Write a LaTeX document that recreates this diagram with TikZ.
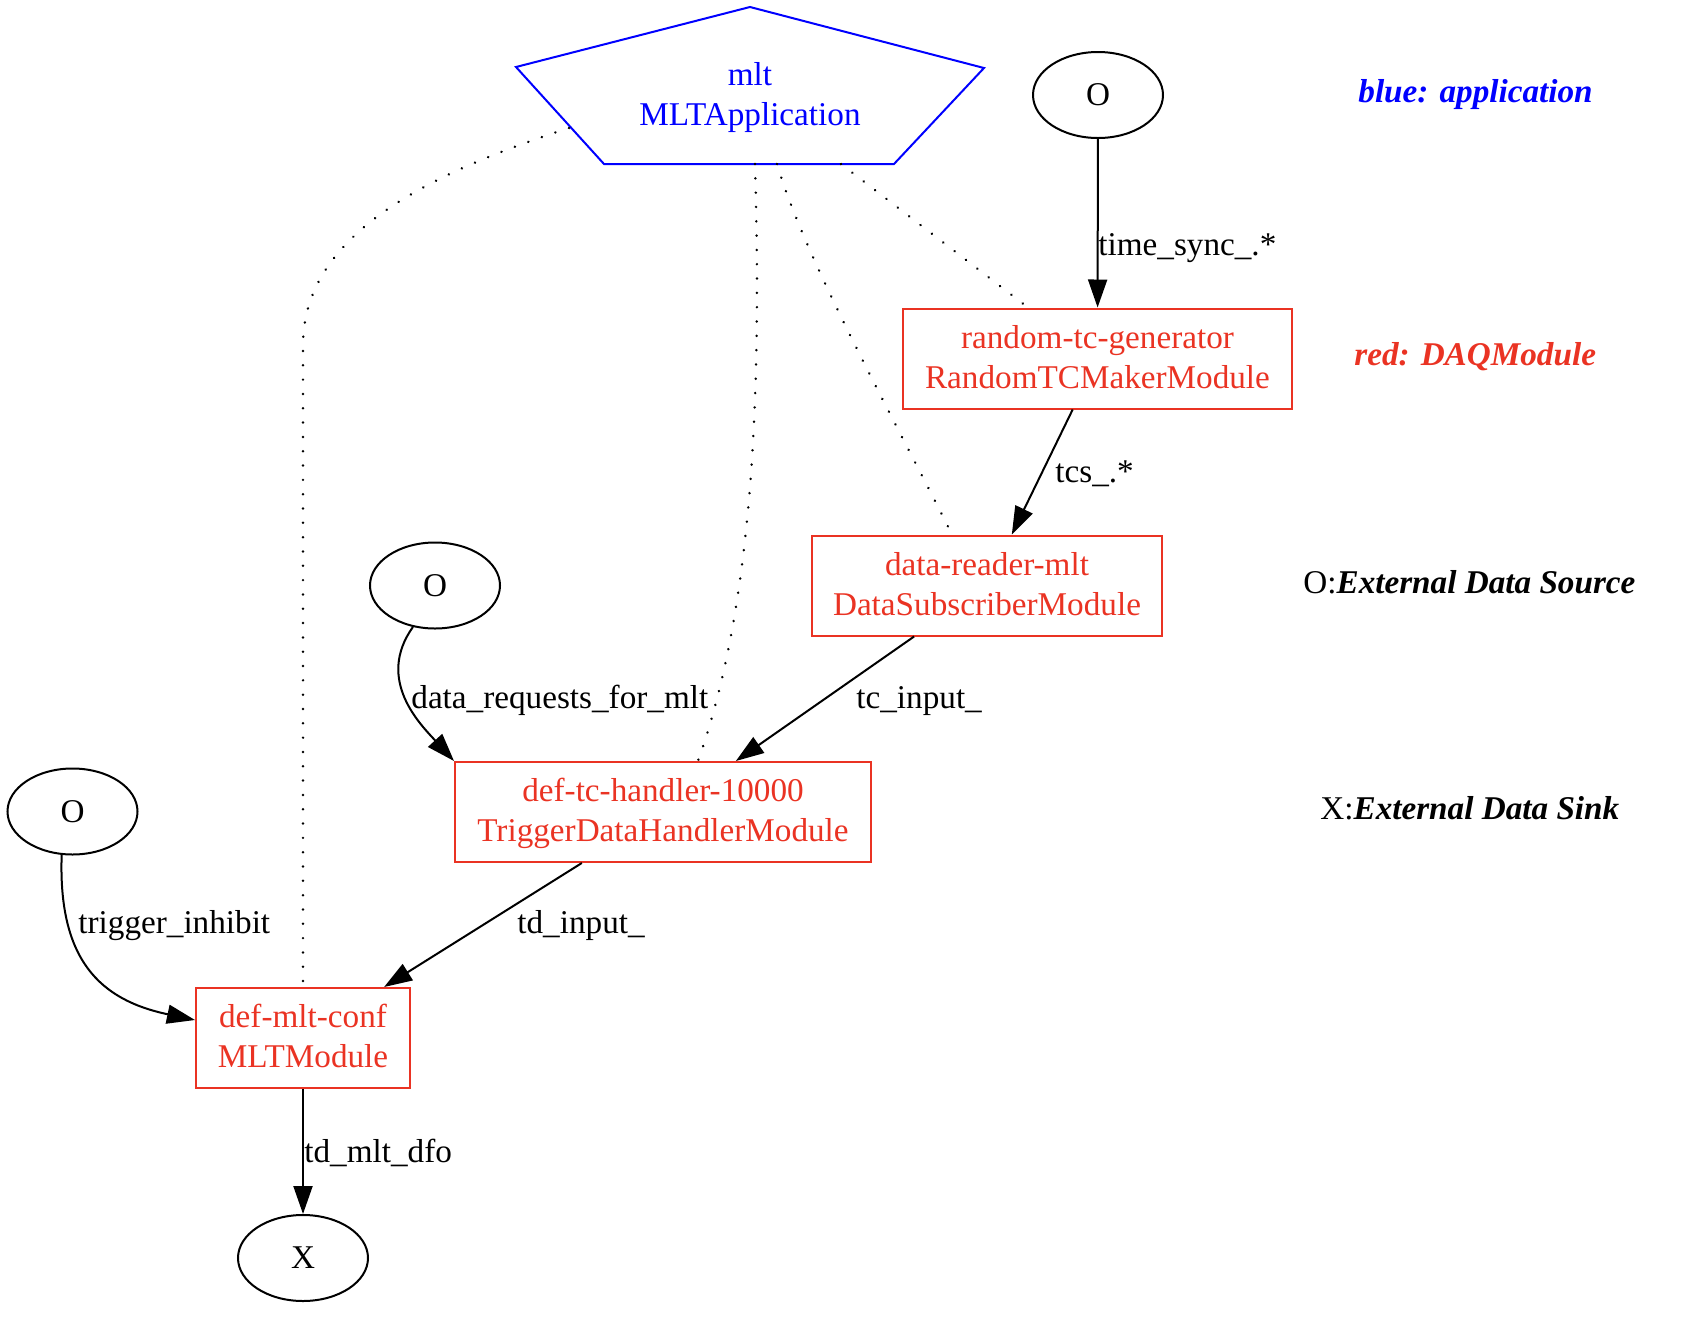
\documentclass[tikz,border=0pt]{standalone}
\usepackage{fontspec}
\setmainfont{Liberation Serif}
\usetikzlibrary{arrows.meta,shapes.geometric,calc}
\definecolor{dred}{RGB}{234,51,35}
\definecolor{dblue}{RGB}{0,0,255}
\newcommand\hstr{\rule{0pt}{13.5pt}}
\newcommand\dstr{\rule[-4pt]{0pt}{4pt}}
\begin{document}
\begin{tikzpicture}[x=0.5pt,y=-0.5pt,
  every node/.style={font=\fontsize{16.6}{20}\selectfont},
  daq/.style={draw=dred, text=dred, line width=1pt, rectangle, inner sep=0pt, minimum height=50pt, align=center},
  ext/.style={draw, ellipse, line width=1pt, inner sep=0pt, minimum width=65pt, minimum height=43pt},
  flow/.style={draw, line width=1pt, -{Triangle[length=14pt,width=9.5pt]}},
  dots/.style={draw, line width=1.35pt, line cap=round, dash pattern=on 0.01pt off 7.15pt},
  lbl/.style={anchor=base west, inner sep=0pt},
  leg/.style={anchor=base west, inner sep=0pt, font=\fontsize{16.6}{20}\selectfont\bfseries\itshape}
]
\useasboundingbox (0,0) rectangle (1694,1334);

% application pentagon
\coordinate (v1) at (750,7);
\coordinate (v2) at (984,68);
\coordinate (v3) at (894,164);
\coordinate (v4) at (604,164);
\coordinate (v5) at (516,67);
\draw[dblue, line width=1pt, line join=miter] (v1) -- (v2) -- (v3) -- (v4) -- (v5) -- cycle;
\node[text=dblue, align=center, inner sep=0pt] (app) at (750,95.5) {\hstr mlt\\MLTApplication\dstr};

% modules
\node[daq, minimum width=194.5pt] (rtg) at (1097.5,358.5) {\hstr random-tc-generator\\RandomTCMakerModule\dstr};
\node[daq, minimum width=175pt] (dr) at (987,585.5) {\hstr data-reader-mlt\\DataSubscriberModule\dstr};
\node[daq, minimum width=208pt] (tdh) at (663,812) {\hstr def-tc-handler-10000\\TriggerDataHandlerModule\dstr};
\node[daq, minimum width=107pt] (mlt) at (303,1038) {\hstr def-mlt-conf\\MLTModule\dstr};

% external
\node[ext] (o1) at (1098,95) {O};
\node[ext] (o2) at (435,585.5) {O};
\node[ext] (o3) at (72.5,811.5) {O};
\node[ext] (x) at (303,1258) {X};

% dotted ownership lines
\coordinate (pa) at (569,128);
\coordinate (pb) at (755,164);
\coordinate (pc) at (777,164);
\coordinate (pd) at (841,164);
\path[dots] (pa) .. controls (440,170) and (303,230) .. (303,345) -- (mlt.north);
\path[dots] (pb) .. controls (762,400) and (752,610) .. ($(tdh.north)+(35,0)$);
\path[dots] (pc) .. controls (805,260) and (900,430) .. ($(dr.north)+(-35,0)$);
\path[dots] (pd) -- ($(rtg.north)+(-69.5,0)$);

% data flow
\path[flow] (o1) -- (rtg);
\path[flow] (rtg) -- (dr);
\path[flow] (dr) -- (tdh);
\path[flow] (tdh) -- (mlt);
\path[flow] (mlt) -- (x);
\path[flow] (o2.-118) .. controls (375,680) and (421,725) .. (tdh.north west);
\path[flow] (o3.-104) .. controls (58,960) and (100,1000) .. ($(mlt.west)+(0,-18)$);

% edge labels
\node[lbl] (l1) at (1098,255) {time\_sync\_.*};
\node[lbl] (l2) at (1055,482) {tcs\_.*};
\node[lbl] (l3) at (856,708) {tc\_input\_};
\node[lbl] (l4) at (411,708) {data\_requests\_for\_mlt};
\node[lbl] (l5) at (78,933) {trigger\_inhibit};
\node[lbl] (l6) at (517,933) {td\_input\_};
\node[lbl] (l7) at (304,1162) {td\_mlt\_dfo};

% legend
\node[leg, text=dblue] (g1) at (1358,102) {blue: application};
\node[leg, text=dred] (g2) at (1354,365) {red: DAQModule};
\node[leg] (g3) at (1303,593) {{\mdseries\upshape O:}External Data Source};
\node[leg] (g4) at (1320,819) {{\mdseries\upshape X:}External Data Sink};
\end{tikzpicture}
\end{document}
